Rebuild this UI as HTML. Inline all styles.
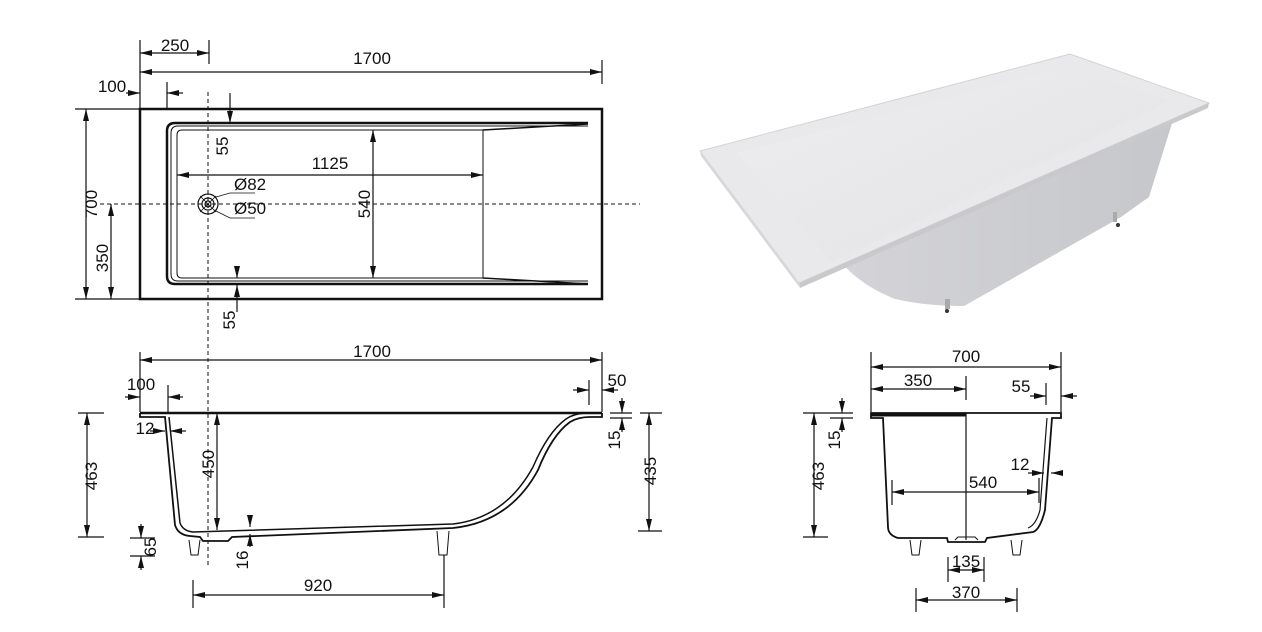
<!DOCTYPE html>
<html><head><meta charset="utf-8"><style>
html,body{margin:0;padding:0;background:#fff}
svg{display:block}
text{font-family:"Liberation Sans",Arial,sans-serif;font-size:17px;fill:#111}
</style></head><body>
<svg width="1262" height="632" viewBox="0 0 1262 632" xmlns="http://www.w3.org/2000/svg">
<defs>
<marker id="a" viewBox="0 0 12 6" refX="12" refY="3" markerWidth="13" markerHeight="6" orient="auto-start-reverse" markerUnits="userSpaceOnUse"><path d="M0,0 L12,3 L0,6 z" fill="#111"/></marker>
<linearGradient id="bg1" x1="0" y1="0" x2="1" y2="1"><stop offset="0" stop-color="#eeeef0"/><stop offset="1" stop-color="#e2e2e5"/></linearGradient>
<linearGradient id="bd" x1="0" y1="0" x2="1" y2="0"><stop offset="0" stop-color="#d4d4d8"/><stop offset="1" stop-color="#c6c7cb"/></linearGradient>
</defs>

<!-- 3D render -->
<g>
<path d="M841,262 L1173,120 L1149,197 L1121,217 L964,306 Q925,306 895,299 Q860,285 841,262 Z" fill="url(#bd)"/>
<path d="M700,151 L1070,54 L1209,103 L799,283 Z" fill="#e9e9eb" stroke="#d4d4d6" stroke-width="1"/>
<path d="M737,153 L1068,67 L1170,101 L832,262 Z" fill="url(#bg1)"/>
<path d="M799,283 L1209,103 L1208,108 L800,288 Z" fill="#c9c9cc"/>
<path d="M700,151 L799,283 L800,288 L701,156 Z" fill="#d8d8db"/>
<rect x="945" y="299" width="5" height="10" fill="#aaa"/><rect x="1113" y="212" width="4" height="10" fill="#aaa"/>
<circle cx="947" cy="311" r="2" fill="#333"/><circle cx="1118" cy="225" r="2" fill="#333"/>
</g>

<g stroke="#111" stroke-width="1.2" fill="none">
<!-- plan view -->
<rect x="140" y="109" width="462" height="190" stroke-width="2.5"/>
<path d="M588,123 L175,123 Q167,123 167,131 L167,276 Q167,284 175,284 L588,284" stroke-width="2.5"/>
<path d="M588,126 L178,126 Q171,126 171,133 L171,274 Q171,281 178,281 L588,281" stroke-width="1"/>
<path d="M483,130 L182,130 Q177,130 177,135 L177,273 Q177,278 182,278 L483,278 L483,130" stroke-width="1"/>
<path d="M483,130 L588,124 M483,278 L588,284" stroke-width="1.5"/>
<line x1="100" y1="204" x2="640" y2="204" stroke-dasharray="4,3" stroke-width="1"/>
<line x1="208" y1="92" x2="208" y2="565" stroke-dasharray="4,3" stroke-width="1"/>
<circle cx="208" cy="204" r="10"/><circle cx="208" cy="204" r="6"/><circle cx="208" cy="204" r="3"/>
<path d="M200,196 L216,212 M200,212 L216,196" stroke-width="0.8"/>
<path d="M216,197 L230,193 L255,193 M214,210 L230,218 L255,218" stroke-width="0.8"/>
<!-- dims plan -->
<line x1="140" y1="40" x2="140" y2="108"/><line x1="209" y1="40" x2="209" y2="64"/>
<line x1="140" y1="53" x2="209" y2="53" marker-start="url(#a)" marker-end="url(#a)"/>
<line x1="602" y1="60" x2="602" y2="84"/>
<line x1="140" y1="72" x2="602" y2="72" marker-start="url(#a)" marker-end="url(#a)"/>
<line x1="167" y1="82" x2="167" y2="109"/>
<line x1="126" y1="93" x2="140" y2="93" marker-end="url(#a)"/><line x1="183" y1="93" x2="167" y2="93" marker-end="url(#a)"/>
<line x1="75" y1="109" x2="140" y2="109"/><line x1="75" y1="299" x2="140" y2="299"/>
<line x1="86" y1="109" x2="86" y2="299" marker-start="url(#a)" marker-end="url(#a)"/>
<line x1="111" y1="204" x2="111" y2="299" marker-start="url(#a)" marker-end="url(#a)"/>
<line x1="230" y1="93" x2="230" y2="123" marker-end="url(#a)"/>
<line x1="177" y1="175" x2="483" y2="175" marker-start="url(#a)" marker-end="url(#a)"/>
<line x1="373" y1="130" x2="373" y2="278" marker-start="url(#a)" marker-end="url(#a)"/>
<line x1="237" y1="268" x2="237" y2="278" marker-end="url(#a)"/>
<line x1="237" y1="312" x2="237" y2="285" marker-end="url(#a)"/>

<!-- side view -->
<path d="M140,413 L602,413" stroke-width="2.5"/>
<path d="M140,413 L140,417 L165,417 L175,525 Q178,535 190,536 L200,537 L203,541 L228,541 L232,537 L453,528 Q510,522 538,470 Q552,435 570,422 Q578,417 590,417 L602,417 L602,413" stroke-width="1.8"/>
<path d="M169,417 L180,523 Q183,531 193,532 L453,524 Q505,518 533,467 Q548,432 566,419 Q573,414 585,413" stroke-width="1.5"/>
<path d="M189,540 L191,555 L198,555 L200,540 M437,531 L439,555 L447,555 L449,531" stroke-width="1"/>
<line x1="140" y1="352" x2="140" y2="412"/><line x1="602" y1="352" x2="602" y2="412"/>
<line x1="140" y1="360" x2="602" y2="360" marker-start="url(#a)" marker-end="url(#a)"/>
<line x1="168" y1="385" x2="168" y2="413"/>
<line x1="125" y1="397" x2="140" y2="397" marker-end="url(#a)"/><line x1="183" y1="397" x2="168" y2="397" marker-end="url(#a)"/>
<line x1="589" y1="380" x2="589" y2="405"/>
<line x1="573" y1="390" x2="589" y2="390" marker-end="url(#a)"/><line x1="618" y1="390" x2="602" y2="390" marker-end="url(#a)"/>
<line x1="78" y1="413" x2="104" y2="413"/><line x1="78" y1="537" x2="104" y2="537"/>
<line x1="87" y1="413" x2="87" y2="537" marker-start="url(#a)" marker-end="url(#a)"/>
<line x1="217" y1="413" x2="217" y2="530" marker-start="url(#a)" marker-end="url(#a)"/>
<line x1="150" y1="431" x2="165" y2="431" marker-end="url(#a)"/><line x1="186" y1="431" x2="170" y2="431" marker-end="url(#a)"/>
<line x1="130" y1="538" x2="155" y2="538"/><line x1="130" y1="556" x2="155" y2="556"/>
<line x1="141" y1="524" x2="141" y2="538" marker-end="url(#a)"/><line x1="141" y1="570" x2="141" y2="556" marker-end="url(#a)"/>
<line x1="250" y1="515" x2="250" y2="527" marker-end="url(#a)"/><line x1="250" y1="547" x2="250" y2="534" marker-end="url(#a)"/>
<line x1="193" y1="580" x2="193" y2="608"/><line x1="444" y1="555" x2="444" y2="608"/>
<line x1="193" y1="595" x2="444" y2="595" marker-start="url(#a)" marker-end="url(#a)"/>
<line x1="610" y1="413" x2="632" y2="413"/><line x1="610" y1="418" x2="632" y2="418"/>
<line x1="622" y1="398" x2="622" y2="413" marker-end="url(#a)"/><line x1="622" y1="432" x2="622" y2="418" marker-end="url(#a)"/>
<line x1="640" y1="413" x2="662" y2="413"/><line x1="638" y1="531" x2="662" y2="531"/>
<line x1="649" y1="413" x2="649" y2="531" marker-start="url(#a)" marker-end="url(#a)"/>

<!-- end view -->
<path d="M871,413 L1061,413 L1061,418 L1052,418 L1045,510 Q1040,530 1033,532 L987,538 L985,542 L948,542 L947,538 L898,538 Q888,535 888,527 L883,418 L871,418 Z" stroke-width="1.8"/>
<path d="M1047,418 L1040,510 Q1036,525 1028,528" stroke-width="1.2"/>
<line x1="871" y1="415" x2="966" y2="415" stroke-width="3"/>
<line x1="966" y1="413" x2="966" y2="540"/>
<path d="M955,540 L958,537 L975,537 L978,540" stroke-width="1"/>
<path d="M910,540 L912,555 L919,555 L921,540 M1011,540 L1013,555 L1020,555 L1022,540" stroke-width="1"/>
<line x1="871" y1="352" x2="871" y2="412"/><line x1="1061" y1="352" x2="1061" y2="412"/>
<line x1="871" y1="367" x2="1061" y2="367" marker-start="url(#a)" marker-end="url(#a)"/>
<line x1="966" y1="376" x2="966" y2="400"/>
<line x1="871" y1="389" x2="966" y2="389" marker-start="url(#a)" marker-end="url(#a)"/>
<line x1="1046" y1="383" x2="1046" y2="405"/>
<line x1="1030" y1="396" x2="1046" y2="396" marker-end="url(#a)"/><line x1="1077" y1="396" x2="1061" y2="396" marker-end="url(#a)"/>
<line x1="830" y1="413" x2="853" y2="413"/><line x1="830" y1="418" x2="853" y2="418"/>
<line x1="842" y1="398" x2="842" y2="413" marker-end="url(#a)"/><line x1="842" y1="432" x2="842" y2="418" marker-end="url(#a)"/>
<line x1="803" y1="413" x2="830" y2="413"/><line x1="803" y1="537" x2="828" y2="537"/>
<line x1="814" y1="413" x2="814" y2="537" marker-start="url(#a)" marker-end="url(#a)"/>
<line x1="892" y1="480" x2="892" y2="505"/><line x1="1039" y1="478" x2="1039" y2="503"/>
<line x1="892" y1="492" x2="1039" y2="492" marker-start="url(#a)" marker-end="url(#a)"/>
<line x1="1028" y1="473" x2="1044" y2="473" marker-end="url(#a)"/><line x1="1063" y1="473" x2="1051" y2="473" marker-end="url(#a)"/>
<line x1="948" y1="557" x2="948" y2="582"/><line x1="984" y1="557" x2="984" y2="582"/>
<line x1="948" y1="570" x2="984" y2="570" marker-start="url(#a)" marker-end="url(#a)"/>
<line x1="916" y1="588" x2="916" y2="612"/><line x1="1017" y1="588" x2="1017" y2="612"/>
<line x1="916" y1="600" x2="1017" y2="600" marker-start="url(#a)" marker-end="url(#a)"/>
</g>

<g>
<text x="175" y="51" text-anchor="middle">250</text>
<text x="372" y="64" text-anchor="middle">1700</text>
<text x="112" y="92" text-anchor="middle">100</text>
<text transform="translate(97,204) rotate(-90)" text-anchor="middle">700</text>
<text transform="translate(108,258) rotate(-90)" text-anchor="middle">350</text>
<text transform="translate(228,146) rotate(-90)" text-anchor="middle">55</text>
<text x="330" y="169" text-anchor="middle">1125</text>
<text transform="translate(370,204) rotate(-90)" text-anchor="middle">540</text>
<text x="234" y="190">Ø82</text>
<text x="234" y="214">Ø50</text>
<text transform="translate(235,320) rotate(-90)" text-anchor="middle">55</text>

<text x="372" y="357" text-anchor="middle">1700</text>
<text x="141" y="390" text-anchor="middle">100</text>
<text x="617" y="386" text-anchor="middle">50</text>
<text x="145" y="434" text-anchor="middle">12</text>
<text transform="translate(97,476) rotate(-90)" text-anchor="middle">463</text>
<text transform="translate(214,464) rotate(-90)" text-anchor="middle">450</text>
<text transform="translate(620,440) rotate(-90)" text-anchor="middle">15</text>
<text transform="translate(656,471) rotate(-90)" text-anchor="middle">435</text>
<text transform="translate(156,547) rotate(-90)" text-anchor="middle">65</text>
<text transform="translate(248,560) rotate(-90)" text-anchor="middle">16</text>
<text x="318" y="591" text-anchor="middle">920</text>

<text x="966" y="362" text-anchor="middle">700</text>
<text x="918" y="386" text-anchor="middle">350</text>
<text x="1021" y="392" text-anchor="middle">55</text>
<text transform="translate(840,440) rotate(-90)" text-anchor="middle">15</text>
<text transform="translate(824,476) rotate(-90)" text-anchor="middle">463</text>
<text x="983" y="488" text-anchor="middle">540</text>
<text x="1020" y="470" text-anchor="middle">12</text>
<text x="966" y="567" text-anchor="middle">135</text>
<text x="966" y="598" text-anchor="middle">370</text>
</g>
</svg>
</body></html>
